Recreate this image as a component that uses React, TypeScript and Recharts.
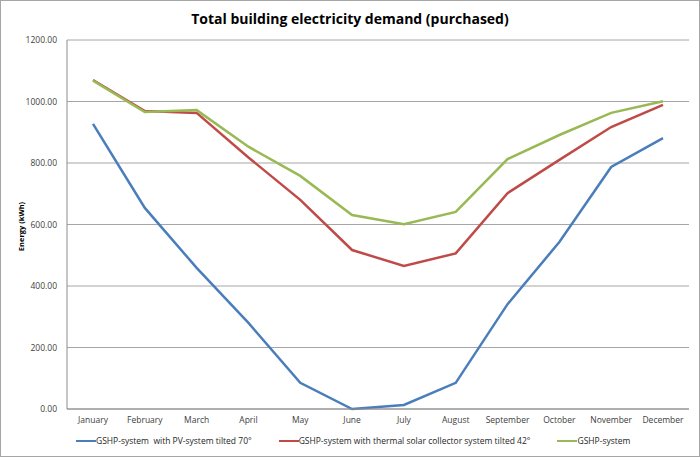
import React from 'react'
import { LineChart, Line, XAxis, YAxis, CartesianGrid } from 'recharts'

const months = ['January', 'February', 'March', 'April', 'May', 'June', 'July', 'August', 'September', 'October', 'November', 'December']
const pvSystem = [927, 654, 459, 280, 85, 0, 13, 85, 341, 543, 787, 881]
const thermalSystem = [1070, 969, 963, 818, 680, 517, 465, 506, 702, 810, 917, 989]
const gshpSystem = [1068, 966, 972, 853, 758, 631, 601, 641, 813, 891, 963, 1001]
const yTicks = [0, 200, 400, 600, 800, 1000, 1200]

const seriesNames = [
    'GSHP-system  with PV-system tilted 70°',
    'GSHP-system with thermal solar collector system tilted 42°',
    'GSHP-system',
]
const colors = ['#4a7ebb', '#be4b48', '#98b954']

const data = months.map((month, i) => ({
    month,
    pv: pvSystem[i],
    thermal: thermalSystem[i],
    gshp: gshpSystem[i],
}))

const font = "'Open Sans', sans-serif"

function YLabel(props: any) {
    const { viewBox } = props
    const cx = 20
    const cy = viewBox.y + viewBox.height / 2 + 2
    return (
        <text
            x={cx}
            y={cy}
            transform={`rotate(-90, ${cx}, ${cy})`}
            textAnchor="middle"
            dominantBaseline="central"
            style={{ fontSize: 7.5, fontWeight: 700, fill: '#000', fontFamily: font }}
        >
            Energy (kWh)
        </text>
    )
}

export default function App() {
    return (
        <div style={{ position: 'absolute', left: 0, top: 0, width: 700, height: 457, boxSizing: 'border-box', border: '1px solid #a6a6a6', background: '#fff' }}>
            <div style={{ position: 'absolute', left: 0, right: 0, top: 8, textAlign: 'center', fontFamily: font, fontWeight: 700, fontSize: 14, color: '#000' }}>
                Total building electricity demand (purchased)
            </div>
            <LineChart width={698} height={455} data={data} margin={{ top: 39, right: 10, bottom: 17, left: 0 }}>
                <CartesianGrid vertical={false} stroke="#a6a6a6" />
                <XAxis
                    dataKey="month"
                    height={30}
                    padding={{ left: 26, right: 26 }}
                    tickLine={false}
                    tickSize={0}
                    tickMargin={8}
                    axisLine={{ stroke: '#8c8c8c' }}
                    interval={0}
                    tick={{ fontSize: 8.5, fill: '#404040', fontFamily: font }}
                />
                <YAxis
                    width={66}
                    domain={[0, 1200]}
                    ticks={yTicks}
                    tickFormatter={(v: number) => v.toFixed(2)}
                    tickLine={false}
                    tickSize={0}
                    tickMargin={10}
                    axisLine={{ stroke: '#8c8c8c' }}
                    tick={{ fontSize: 8.5, fill: '#404040', fontFamily: font }}
                    label={<YLabel />}
                />
                <Line dataKey="pv" name={seriesNames[0]} stroke={colors[0]} strokeWidth={2.5} dot={false} isAnimationActive={false} />
                <Line dataKey="thermal" name={seriesNames[1]} stroke={colors[1]} strokeWidth={2.5} dot={false} isAnimationActive={false} />
                <Line dataKey="gshp" name={seriesNames[2]} stroke={colors[2]} strokeWidth={2.5} dot={false} isAnimationActive={false} />
            </LineChart>
            <div style={{ position: 'absolute', left: 75, top: 433, display: 'flex', alignItems: 'center', fontFamily: font, fontSize: 8.5, color: '#262626', lineHeight: '14px' }}>
                {seriesNames.map((name, i) => (
                    <div key={name} style={{ display: 'flex', alignItems: 'center', marginRight: 27 }}>
                        <span style={{ display: 'inline-block', width: 20, height: 2.5, background: colors[i] }} />
                        <span style={{ whiteSpace: 'pre' }}>{name}</span>
                    </div>
                ))}
            </div>
        </div>
    )
}
